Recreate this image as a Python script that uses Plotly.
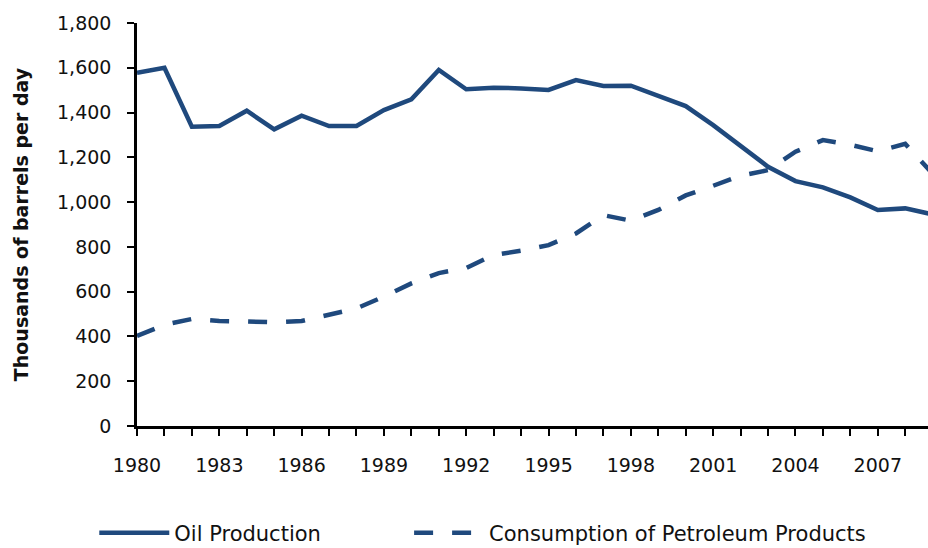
import plotly.graph_objects as go

years = list(range(1980, 2010))
oil_production = [1578, 1600, 1337, 1340, 1408, 1325, 1386, 1340, 1340, 1411,
                  1459, 1590, 1504, 1511, 1508, 1501, 1545, 1519, 1520, 1475,
                  1429, 1344, 1252, 1158, 1094, 1066, 1021, 965, 972, 945]
consumption = [402, 452, 478, 469, 467, 463, 469, 496, 525, 578,
               637, 683, 706, 764, 783, 808, 860, 942, 917, 965,
               1030, 1073, 1118, 1143, 1225, 1277, 1256, 1227, 1260, 1127]
tick_labels = [str(y) if (y - 1980) % 3 == 0 else "" for y in years]

color = "#1F497D"
font_family = "DejaVu Sans"

fig = go.Figure()
fig.add_trace(go.Scatter(x=years, y=oil_production, mode="lines", name="Oil Production",
                         line=dict(color=color, width=4.5), legend="legend"))
fig.add_trace(go.Scatter(x=years, y=consumption, mode="lines",
                         name="Consumption of Petroleum Products",
                         line=dict(color=color, width=4.5, dash="19px,19px"), legend="legend2"))

leg_common = dict(orientation="h", y=-0.266, yanchor="middle", xanchor="left",
                  font=dict(size=21), itemwidth=70, bgcolor="rgba(0,0,0,0)")

fig.update_layout(
    width=928, height=548,
    margin=dict(l=137, r=0, t=23, b=122, autoexpand=False),
    plot_bgcolor="white", paper_bgcolor="white",
    font=dict(family=font_family, size=19, color="#111111"),
    showlegend=True,
    legend=dict(x=-0.054, **leg_common),
    legend2=dict(x=0.344, **leg_common),
    xaxis=dict(range=[1980, 2008.83], tickvals=years, ticktext=tick_labels,
               showgrid=False, zeroline=False, showline=True, linecolor="black", linewidth=2.5,
               ticks="outside", ticklen=7, tickwidth=2, tickcolor="black",
               ticklabelstandoff=13),
    yaxis=dict(range=[0, 1800], dtick=200, tickformat=",", showgrid=False, zeroline=False,
               showline=True, linecolor="black", linewidth=2.5,
               ticks="outside", ticklen=7, tickwidth=2, tickcolor="black",
               ticklabelstandoff=12,
               title=dict(text="<b>Thousands of barrels per day</b>", standoff=24,
                          font=dict(size=19))),
)

fig.write_html("out.html", config={"displayModeBar": False},
               post_script="document.body.style.margin='0';document.body.style.overflow='hidden';")
